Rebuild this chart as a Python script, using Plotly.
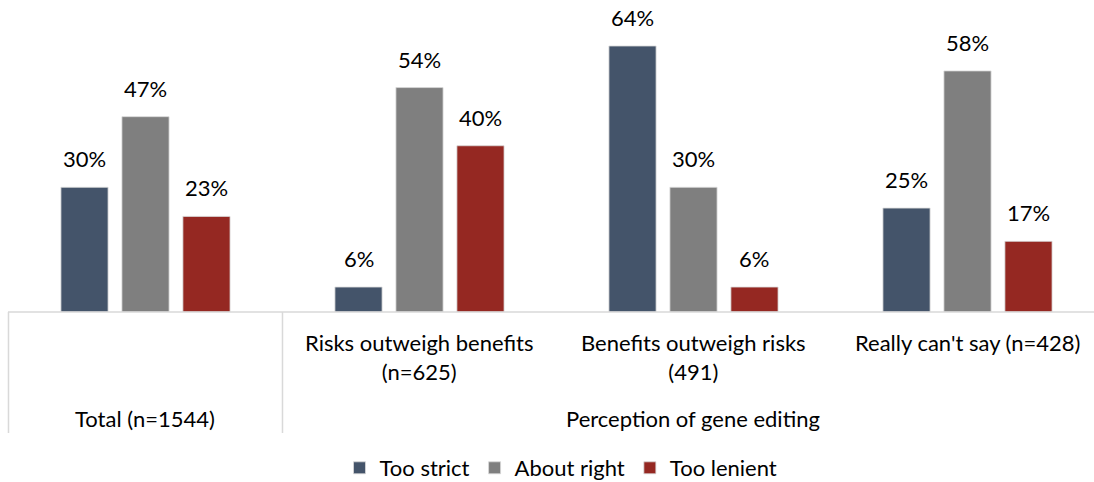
import plotly.graph_objects as go

# Survey results: views on gene-editing regulation by perception group
categories = ["Total (n=1544)", "Risks outweigh benefits<br>(n=625)",
              "Benefits outweigh risks<br>(491)", "Really can't say (n=428)"]
series_names = ["Too strict", "About right", "Too lenient"]
too_strict = [30, 6, 64, 25]
about_right = [47, 54, 30, 58]
too_lenient = [23, 40, 6, 17]
group_label = "Perception of gene editing"

colors = ["#44546A", "#7F7F7F", "#952822"]
FONT = "Lato"
FS = 22

W, H = 1094, 482
left_px, base_px = 8, 312
x_range = [-0.5018, 3.4617]
y_range = [0, 75.07]

pos = list(range(len(categories)))
offsets = [-0.2226, 0.0, 0.2226]
bar_w = 0.172

fig = go.Figure()
annotations = []
for name, vals, col, off in zip(series_names, [too_strict, about_right, too_lenient], colors, offsets):
    xs = [p + off for p in pos]
    fig.add_trace(go.Bar(
        x=xs, y=vals, width=bar_w, name=name,
        marker=dict(color=col, line=dict(color="#D9D9D9", width=0.8)),
        cliponaxis=False,
    ))
    # value labels above each bar
    for x, v in zip(xs, vals):
        annotations.append(dict(x=x, y=v, xref="x", yref="y", text=f"{v}%",
                                showarrow=False, xanchor="center", yanchor="bottom",
                                yshift=13, font=dict(family=FONT, size=FS, color="#000000")))


def xp(v):
    return (v - x_range[0]) / (x_range[1] - x_range[0])


def yp(px):
    return (base_px - px) / base_px


shapes = [
    dict(type="line", xref="paper", yref="paper", x0=0, x1=1.02, y0=0, y1=0,
         line=dict(color="#D9D9D9", width=1.5)),
]
for b in [-0.5, 0.5]:
    shapes.append(dict(type="line", xref="paper", yref="paper", x0=xp(b), x1=xp(b),
                       y0=0, y1=yp(433), line=dict(color="#D9D9D9", width=1.5)))

axis_text = dict(xref="paper", yref="paper", showarrow=False, xanchor="center",
                 yanchor="top", font=dict(family=FONT, size=FS, color="#000000"))
annotations.append(dict(x=xp(0), y=yp(403), text=categories[0], **axis_text))
for i in range(1, len(categories)):
    annotations.append(dict(x=xp(i), y=yp(327), text=categories[i], **axis_text))
annotations.append(dict(x=xp((0.5 + 3.5) / 2), y=yp(403), text=group_label, **axis_text))

fig.update_layout(
    width=W, height=H,
    margin=dict(l=left_px, r=0, t=0, b=H - base_px, autoexpand=False),
    plot_bgcolor="white", paper_bgcolor="white",
    barmode="overlay",
    xaxis=dict(range=x_range, showticklabels=False, showgrid=False, zeroline=False,
               showline=False, ticks=""),
    yaxis=dict(range=y_range, visible=False),
    shapes=shapes, annotations=annotations,
    showlegend=True,
    legend=dict(orientation="h", x=(561 - left_px) / (W - left_px), xanchor="center",
                y=yp(468), yanchor="middle",
                font=dict(family=FONT, size=FS, color="#000000"),
                itemwidth=30, traceorder="normal"),
    font=dict(family=FONT, size=FS),
)

fig.write_html("out.html")
